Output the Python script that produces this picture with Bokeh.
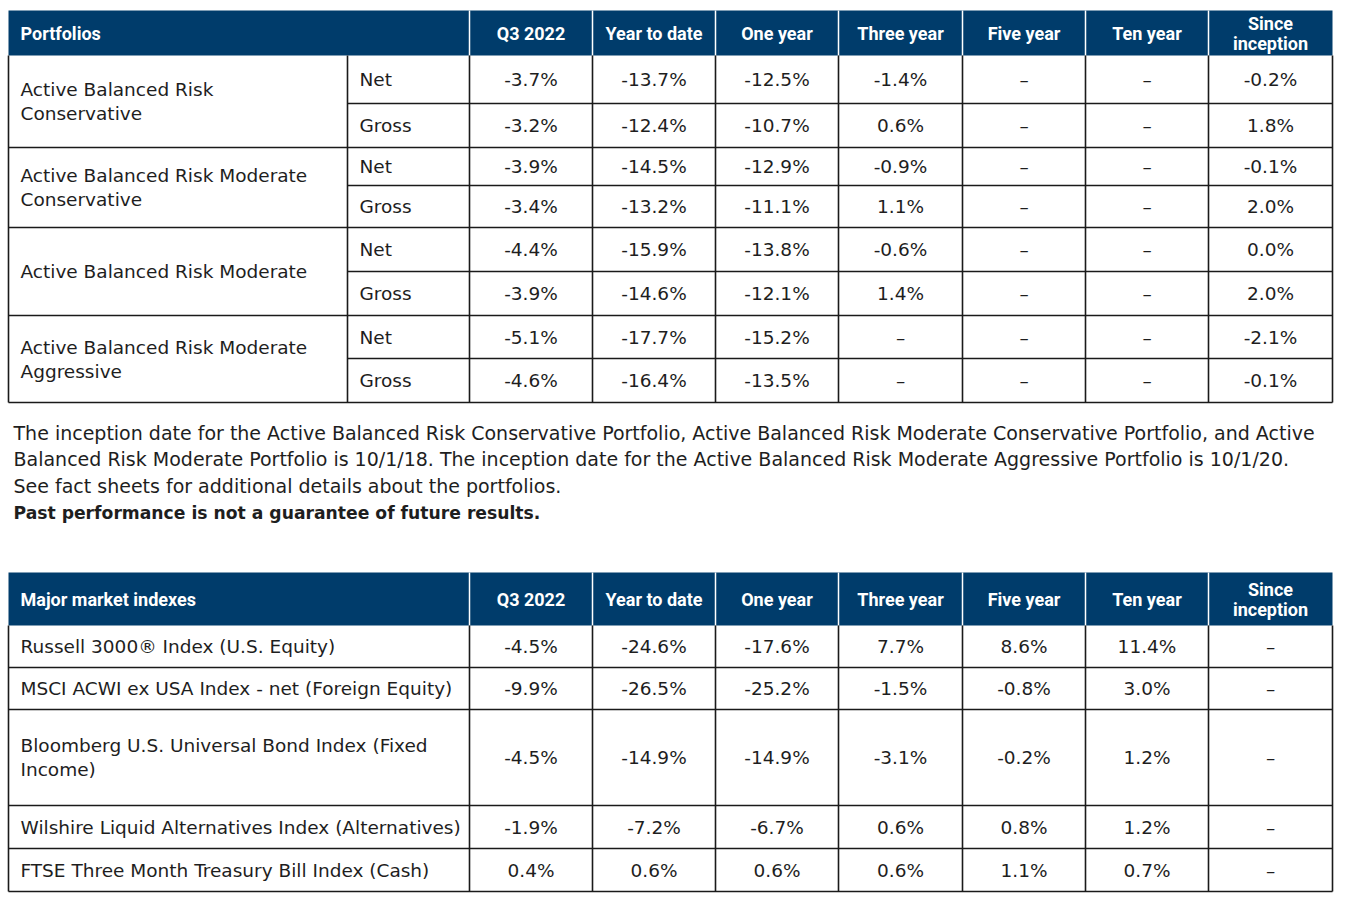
from bokeh.plotting import figure
from bokeh.models import Range1d, ColumnDataSource
from bokeh.embed import file_html
from bokeh.resources import INLINE
from bokeh.core.properties import value

# ---------------- data ----------------
columns = ["Q3 2022", "Year to date", "One year", "Three year", "Five year", "Ten year", "Since\ninception"]

portfolio_names = [
    "Active Balanced Risk\nConservative",
    "Active Balanced Risk Moderate\nConservative",
    "Active Balanced Risk Moderate",
    "Active Balanced Risk Moderate\nAggressive",
]
share_classes = ["Net", "Gross"]

cons_net = [-3.7, -13.7, -12.5, -1.4, None, None, -0.2]
cons_gross = [-3.2, -12.4, -10.7, 0.6, None, None, 1.8]
modcons_net = [-3.9, -14.5, -12.9, -0.9, None, None, -0.1]
modcons_gross = [-3.4, -13.2, -11.1, 1.1, None, None, 2.0]
mod_net = [-4.4, -15.9, -13.8, -0.6, None, None, 0.0]
mod_gross = [-3.9, -14.6, -12.1, 1.4, None, None, 2.0]
modagg_net = [-5.1, -17.7, -15.2, None, None, None, -2.1]
modagg_gross = [-4.6, -16.4, -13.5, None, None, None, -0.1]

index_names = [
    "Russell 3000\u00ae Index (U.S. Equity)",
    "MSCI ACWI ex USA Index - net (Foreign Equity)",
    "Bloomberg U.S. Universal Bond Index (Fixed\nIncome)",
    "Wilshire Liquid Alternatives Index (Alternatives)",
    "FTSE Three Month Treasury Bill Index (Cash)",
]
russell = [-4.5, -24.6, -17.6, 7.7, 8.6, 11.4, None]
msci = [-9.9, -26.5, -25.2, -1.5, -0.8, 3.0, None]
bloomberg = [-4.5, -14.9, -14.9, -3.1, -0.2, 1.2, None]
wilshire = [-1.9, -7.2, -6.7, 0.6, 0.8, 1.2, None]
ftse = [0.4, 0.6, 0.6, 0.6, 1.1, 0.7, None]

footnote_lines = [
    "The inception date for the Active Balanced Risk Conservative Portfolio, Active Balanced Risk Moderate Conservative Portfolio, and Active",
    "Balanced Risk Moderate Portfolio is 10/1/18. The inception date for the Active Balanced Risk Moderate Aggressive Portfolio is 10/1/20.",
    "See fact sheets for additional details about the portfolios.",
]
footnote_bold = "Past performance is not a guarantee of future results."

portfolio_rows = [cons_net, cons_gross, modcons_net, modcons_gross,
                  mod_net, mod_gross, modagg_net, modagg_gross]
index_rows = [russell, msci, bloomberg, wilshire, ftse]

# ---------------- layout ----------------
NAVY = "#003c6b"
INK = "#1e1e1e"
GRID = "#1a1a1a"
BODY_FONT = value("DejaVu Sans")
HEAD_FONT = value("Roboto")
BODY_SIZE = value("18.5px")
NOTE_SIZE = value("19px")
HEAD_SIZE = value("18px")
LINE_H = 24

W, H = 1352, 893

X_LEFT = 8
X_SUB = 347
COL_EDGES = [469, 592, 715, 838, 962, 1085, 1208, 1332]
X_RIGHT = COL_EDGES[-1]

T1_HEAD = (10, 55)
T1_ROWS = [55, 103, 147, 185, 227, 271, 315, 358, 402]
T2_HEAD = (572, 625)
T2_ROWS = [625, 667, 709, 805, 848, 891]


def fmt(v):
    return "\u2013" if v is None else f"{v:.1f}%"


p = figure(width=W, height=H, x_range=Range1d(0, W), y_range=Range1d(H, 0),
           output_backend="svg", toolbar_location=None, min_border=0)
p.axis.visible = False
p.grid.visible = False
p.outline_line_color = None
p.background_fill_color = "white"
p.border_fill_color = "white"

texts = {"x": [], "y": [], "t": [], "align": []}
htexts = {"x": [], "y": [], "t": [], "align": []}
seg = {"x0": [], "y0": [], "x1": [], "y1": []}
wseg = {"x0": [], "y0": [], "x1": [], "y1": []}


def add_text(d, x, y, t, align="left", spacing=LINE_H):
    lines = t.split("\n")
    n = len(lines)
    for i, ln in enumerate(lines):
        d["x"].append(x)
        d["y"].append(y + (i - (n - 1) / 2) * spacing)
        d["t"].append(ln)
        d["align"].append(align)


def add_seg(d, x0, y0, x1, y1):
    d["x0"].append(x0); d["y0"].append(y0); d["x1"].append(x1); d["y1"].append(y1)


def header(top, bottom, title):
    p.quad(left=[X_LEFT], right=[X_RIGHT], top=[top], bottom=[bottom],
           fill_color=NAVY, line_color=None)
    for x in COL_EDGES[:-1]:
        add_seg(wseg, x, top, x, bottom)
    mid = (top + bottom) / 2
    add_text(htexts, 20, mid, title)
    for i, c in enumerate(columns):
        add_text(htexts, (COL_EDGES[i] + COL_EDGES[i + 1]) / 2, mid, c, "center", 20)


# ---- table 1 ----
header(T1_HEAD[0], T1_HEAD[1], "Portfolios")
top, bot = T1_ROWS[0], T1_ROWS[-1]
add_seg(seg, X_LEFT, top, X_LEFT, bot)
add_seg(seg, X_SUB, top, X_SUB, bot)
for x in COL_EDGES:
    add_seg(seg, x, top, x, bot)
for k, yb in enumerate(T1_ROWS[1:]):
    if k % 2 == 1:
        add_seg(seg, X_LEFT, yb, X_RIGHT, yb)
    else:
        add_seg(seg, X_SUB, yb, X_RIGHT, yb)
for g, name in enumerate(portfolio_names):
    y0, y1 = T1_ROWS[2 * g], T1_ROWS[2 * g + 2]
    add_text(texts, 20, (y0 + y1) / 2, name)
for r, row in enumerate(portfolio_rows):
    yc = (T1_ROWS[r] + T1_ROWS[r + 1]) / 2
    add_text(texts, 359, yc, share_classes[r % 2])
    for i, v in enumerate(row):
        add_text(texts, (COL_EDGES[i] + COL_EDGES[i + 1]) / 2, yc, fmt(v), "center")

# ---- table 2 ----
header(T2_HEAD[0], T2_HEAD[1], "Major market indexes")
top, bot = T2_ROWS[0], T2_ROWS[-1]
add_seg(seg, X_LEFT, top, X_LEFT, bot)
for x in COL_EDGES:
    add_seg(seg, x, top, x, bot)
for yb in T2_ROWS[1:]:
    add_seg(seg, X_LEFT, yb, X_RIGHT, yb)
for r, (name, row) in enumerate(zip(index_names, index_rows)):
    yc = (T2_ROWS[r] + T2_ROWS[r + 1]) / 2
    add_text(texts, 20, yc, name)
    for i, v in enumerate(row):
        add_text(texts, (COL_EDGES[i] + COL_EDGES[i + 1]) / 2, yc, fmt(v), "center")

# ---------------- draw ----------------
p.segment(x0="x0", y0="y0", x1="x1", y1="y1", source=ColumnDataSource(wseg),
          line_color="white", line_width=1.5)
p.segment(x0="x0", y0="y0", x1="x1", y1="y1", source=ColumnDataSource(seg),
          line_color=GRID, line_width=1.6)

p.text(x="x", y="y", text="t", source=ColumnDataSource(texts), text_align="align",
       text_baseline="middle", text_font=BODY_FONT, text_font_size=BODY_SIZE, text_color=INK)

NOTE_Y0, NOTE_DY = 432, 26.7
p.text(x=[13] * len(footnote_lines), y=[NOTE_Y0 + i * NOTE_DY for i in range(len(footnote_lines))],
       text=footnote_lines, text_align="left", text_baseline="middle",
       text_font=BODY_FONT, text_font_size=NOTE_SIZE, text_color=INK)
p.text(x=[13], y=[NOTE_Y0 + len(footnote_lines) * NOTE_DY], text=[footnote_bold],
       text_align="left", text_baseline="middle",
       text_font=BODY_FONT, text_font_size=value("17.2px"), text_font_style="bold", text_color=INK)

p.text(x="x", y="y", text="t", source=ColumnDataSource(htexts), text_align="align",
       text_baseline="middle", text_font=HEAD_FONT, text_font_size=HEAD_SIZE,
       text_font_style="bold", text_color="white")

open("out.html", "w").write(file_html(p, INLINE))
